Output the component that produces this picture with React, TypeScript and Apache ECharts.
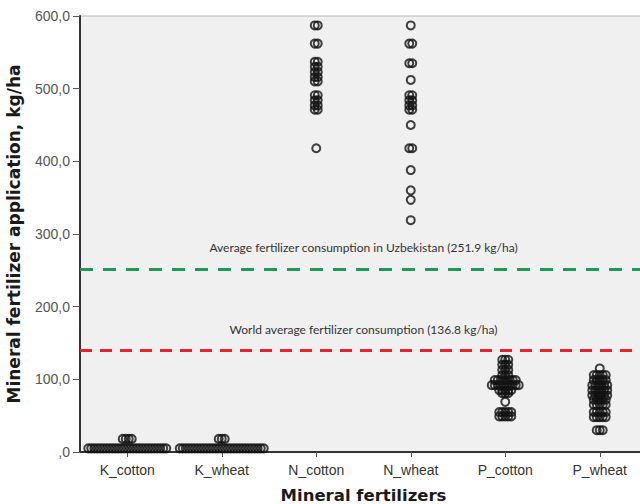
import React, { useEffect, useRef } from "react";
import * as echarts from "echarts";

const categories = ["K_cotton", "K_wheat", "N_cotton", "N_wheat", "P_cotton", "P_wheat"];

const kCotton = [5, 5, 5, 5, 5, 5, 5, 5, 5, 5, 5, 5, 5, 5, 5, 5, 5, 5, 5, 5, 5, 5, 5, 5, 5, 5, 5, 18, 18, 18, 18];
const kWheat = [5, 5, 5, 5, 5, 5, 5, 5, 5, 5, 5, 5, 5, 5, 5, 5, 5, 5, 5, 5, 5, 5, 5, 5, 5, 5, 5, 5, 5, 18, 18, 18];
const nCotton = [587, 587, 562, 562, 537, 537, 530, 530, 523, 523, 516, 516, 510, 510, 491, 491, 484, 484, 477, 477, 471, 471, 418];
const nWheat = [587, 562, 562, 535, 535, 512, 491, 491, 484, 484, 477, 477, 471, 471, 450, 418, 418, 388, 360, 347, 319];
const pCotton = [127, 127, 127, 120, 120, 120, 113, 113, 113, 106, 106, 106, 99, 99, 99, 99, 99, 99, 99, 99, 92, 92, 92, 92, 92, 92, 92, 92, 92, 92, 85, 85, 85, 85, 85, 81, 81, 81, 69, 55, 55, 55, 55, 55, 49, 49, 49, 49, 49];
const pWheat = [115, 106, 106, 106, 106, 106, 99, 99, 99, 99, 99, 92, 92, 92, 92, 92, 92, 85, 85, 85, 85, 85, 85, 78, 78, 78, 78, 78, 78, 72, 72, 72, 72, 72, 65, 65, 65, 65, 65, 55, 55, 55, 55, 55, 48, 48, 48, 48, 48, 30, 30, 30];

const seriesValues = [kCotton, kWheat, nCotton, nWheat, pCotton, pWheat];

const yTicks = [0, 100, 200, 300, 400, 500, 600];
const uzAvgLevel = 251.9;
const uzAvgLabel = "Average fertilizer consumption in Uzbekistan (251.9 kg/ha)";
const worldAvgLevel = 140;
const worldAvgLabel = "World average fertilizer consumption (136.8 kg/ha)";

const STACK_STEP = 3;

function buildPoints() {
  const pts: any[] = [];
  seriesValues.forEach((vals, ci) => {
    const counts: Record<string, number> = {};
    vals.forEach((v) => {
      counts[v] = (counts[v] || 0) + 1;
    });
    const seen: Record<string, number> = {};
    vals.forEach((v) => {
      const n = counts[v];
      const i = seen[v] || 0;
      seen[v] = i + 1;
      const off = (i - (n - 1) / 2) * STACK_STEP;
      pts.push({ value: [ci, v], symbolOffset: [off, 0] });
    });
  });
  return pts;
}

export default function App() {
  const ref = useRef<HTMLDivElement>(null);
  useEffect(() => {
    if (!ref.current) return;
    const chart = echarts.init(ref.current, null, { renderer: "svg" });
    chart.setOption({
      animation: false,
      backgroundColor: "#ffffff",
      grid: {
        left: 80,
        top: 16,
        width: 567,
        height: 436,
        containLabel: false,
        outerBoundsMode: "none",
        show: true,
        backgroundColor: "#f0f0f0",
        borderColor: "#b8b8b8",
        borderWidth: 1,
      },
      xAxis: {
        type: "category",
        data: categories,
        name: "Mineral fertilizers",
        nameLocation: "middle",
        nameGap: 35,
        nameTextStyle: { fontFamily: "DejaVu Sans", fontWeight: "bold", fontSize: 16.5, color: "#1a1a1a" },
        axisLine: { show: true, lineStyle: { color: "#333", width: 2 } },
        axisTick: { show: true, alignWithLabel: true, length: 5, lineStyle: { color: "#555" } },
        axisLabel: { fontFamily: "Liberation Sans", fontSize: 14, color: "#333", margin: 11 },
        splitLine: { show: false },
      },
      yAxis: {
        type: "value",
        min: 0,
        max: 600,
        interval: 100,
        name: "Mineral fertilizer application, kg/ha",
        nameLocation: "middle",
        nameGap: 58,
        nameTextStyle: { fontFamily: "DejaVu Sans", fontWeight: "bold", fontSize: 17, color: "#1a1a1a" },
        axisLine: { show: true, lineStyle: { color: "#333", width: 2 } },
        axisTick: { show: true, length: 7, lineStyle: { color: "#555" } },
        axisLabel: {
          fontFamily: "Liberation Sans",
          fontSize: 14,
          color: "#555",
          margin: 10,
          showMinLabel: true,
          hideOverlap: false,
          formatter: (v: number) => (yTicks.includes(v) ? (v === 0 ? ",0" : v.toFixed(1).replace(".", ",")) : ""),
        },
        splitLine: { show: false },
      },
      series: [
        {
          type: "scatter",
          clip: false,
          symbol: "circle",
          symbolSize: 8,
          itemStyle: { color: "transparent", borderColor: "#111", borderWidth: 2 },
          data: buildPoints(),
          markLine: {
            silent: true,
            symbol: "none",
            data: [
              {
                yAxis: uzAvgLevel,
                lineStyle: { color: "#1c9b57", width: 3, type: [13, 10] },
                label: {
                  show: true,
                  position: "middle",
                  distance: 15,
                  formatter: uzAvgLabel,
                  fontFamily: "Lato",
                  fontSize: 12,
                  color: "#333",
                },
              },
              {
                yAxis: worldAvgLevel,
                lineStyle: { color: "#e8232b", width: 3, type: [12, 8] },
                label: {
                  show: true,
                  position: "middle",
                  distance: 15,
                  formatter: worldAvgLabel,
                  fontFamily: "Lato",
                  fontSize: 12,
                  color: "#333",
                },
              },
            ],
          },
        },
      ],
    });
    return () => chart.dispose();
  }, []);
  return <div ref={ref} style={{ position: "fixed", left: 0, top: 0, width: 640, height: 504 }} />;
}
